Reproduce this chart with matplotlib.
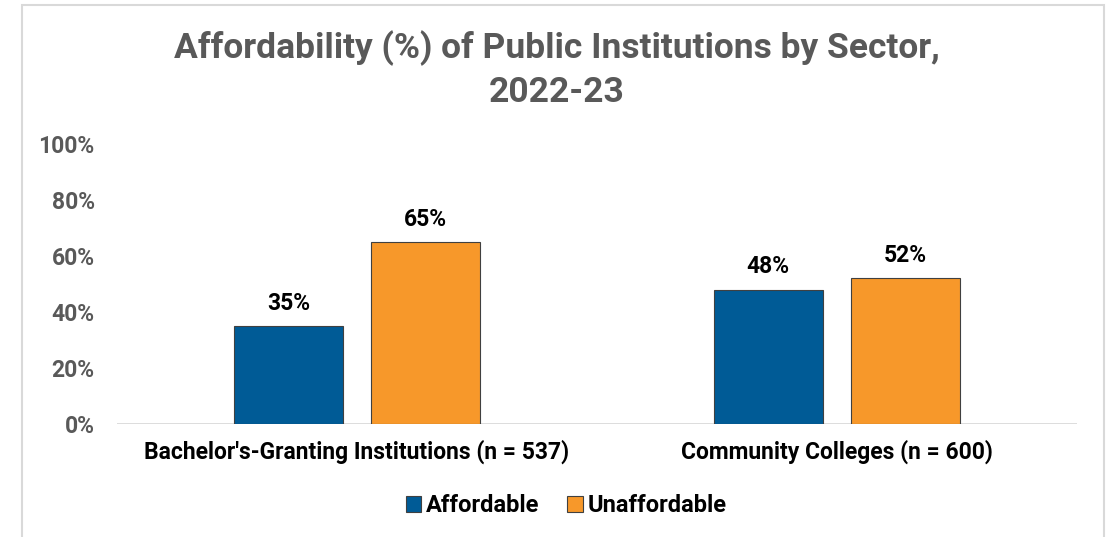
import matplotlib
matplotlib.use("Agg")
import matplotlib.pyplot as plt
from matplotlib.patches import Rectangle
import numpy as np

categories = ["Bachelor's-Granting Institutions (n = 537)", "Community Colleges (n = 600)"]
series_names = ["Affordable", "Unaffordable"]
affordable = [35, 48]
unaffordable = [65, 52]
yticks = [0, 20, 40, 60, 80, 100]

colors = ["#005B96", "#F7982A"]
plt.rcParams['font.family'] = ['Roboto', 'DejaVu Sans']

fig = plt.figure(figsize=(11.14, 5.37), dpi=100)
fig.patch.set_facecolor("white")
# outer border
fig.add_artist(Rectangle((22/1114, -0.05), (1104-22)/1114, 1 - 5/537 + 0.05,
                         transform=fig.transFigure, fill=False,
                         edgecolor="#d9d9d9", lw=1.5))

ax = fig.add_axes([117/1114, 1-424/537, (1077-117)/1114, (424-144)/537])
x = np.arange(len(categories))
w = 0.227
off = 0.143
for i, (vals, name) in enumerate(zip([affordable, unaffordable], series_names)):
    pos = x + (-off if i == 0 else off)
    bars = ax.bar(pos, vals, width=w, color=colors[i], edgecolor="#404040",
                  linewidth=0.8, label=name, zorder=3)
    for b, v in zip(bars, vals):
        ax.annotate(f"{v}%", (b.get_x() + b.get_width()/2, v), xytext=(0, 8),
                    textcoords="offset points", ha="center", va="bottom",
                    fontsize=16.5, fontweight="bold", color="black")

ax.set_xlim(-0.5, 1.5)
ax.set_ylim(0, 100)
ax.set_yticks(yticks)
ax.set_yticklabels([f"{t}%" for t in yticks], fontsize=16.5, fontweight="bold", color="#595959")
ax.set_xticks(x)
ax.set_xticklabels(categories, fontsize=16.5, fontweight="bold", color="black")
ax.tick_params(axis="y", length=0, pad=16)
ax.tick_params(axis="x", length=0, pad=11)
for s in ax.spines.values():
    s.set_visible(False)
ax.axhline(0, color="#d9d9d9", lw=2, zorder=2)

fig.suptitle("Affordability (%) of Public Institutions by Sector,\n2022-23",
             y=1-30/537, fontsize=25.5, fontweight="bold", color="#595959",
             linespacing=1.4, va="top")

leg = fig.legend(loc="center", bbox_to_anchor=(566/1114, 1-506/537), ncol=2, frameon=False,
                 prop={"size": 17, "weight": "bold"}, handlelength=0.65, handleheight=0.65,
                 handletextpad=0.2, columnspacing=1.2)

fig.savefig("out.png", dpi=100, facecolor="white")
